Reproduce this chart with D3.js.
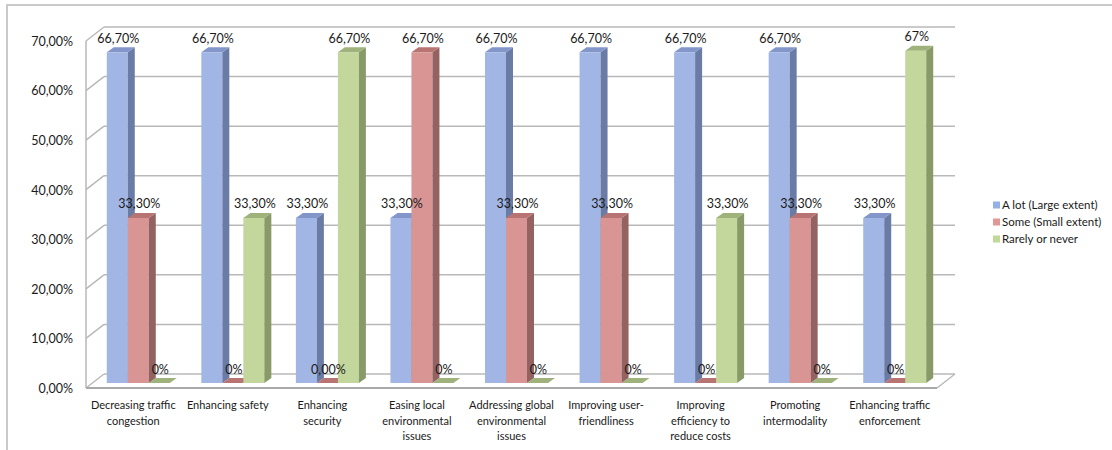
<!DOCTYPE html>
<html>
<head>
<meta charset="utf-8">
<script src="https://cdn.jsdelivr.net/npm/d3@7"></script>
<style>
  html, body { margin: 0; padding: 0; background: #ffffff; }
  svg { display: block; }
  text { font-family: Lato, "Open Sans", sans-serif; fill: #1a1a1a; }
</style>
</head>
<body>
<svg id="chart" width="1112" height="450"></svg>
<script>
// ---- data ----
const categories = [
  "Decreasing traffic congestion",
  "Enhancing safety",
  "Enhancing security",
  "Easing local environmental issues",
  "Addressing global environmental issues",
  "Improving user-friendliness",
  "Improving efficiency to reduce costs",
  "Promoting intermodality",
  "Enhancing traffic enforcement"
];
const categoryLines = [
  ["Decreasing traffic", "congestion"],
  ["Enhancing safety"],
  ["Enhancing", "security"],
  ["Easing local", "environmental", "issues"],
  ["Addressing global", "environmental", "issues"],
  ["Improving user-", "friendliness"],
  ["Improving", "efficiency to", "reduce costs"],
  ["Promoting", "intermodality"],
  ["Enhancing traffic", "enforcement"]
];
const seriesNames = ["A lot (Large extent)", "Some (Small extent)", "Rarely or never"];
const aLot     = [66.7, 66.7, 33.3, 33.3, 66.7, 66.7, 66.7, 66.7, 33.3];
const some     = [33.3, 0, 0, 66.7, 33.3, 33.3, 0, 33.3, 0];
const rarely   = [0, 33.3, 66.7, 0, 0, 0, 33.3, 0, 67];
const aLotLabels   = ["66,70%", "66,70%", "33,30%", "33,30%", "66,70%", "66,70%", "66,70%", "66,70%", "33,30%"];
const someLabels   = ["33,30%", "0%", "0,00%", "66,70%", "33,30%", "33,30%", "0%", "33,30%", "0%"];
const rarelyLabels = ["0%", "33,30%", "66,70%", "0%", "0%", "0%", "33,30%", "0%", "67%"];
const yTicks = [0, 10, 20, 30, 40, 50, 60, 70];

// ---- styling ----
const palette = [
  { front: "#a2b6e5", side: "#6a7ca6", top: "#8396c9", key: "#95b0e6" },
  { front: "#d99593", side: "#956262", top: "#b77472", key: "#e09896" },
  { front: "#c3d69b", side: "#899a69", top: "#9fb27b", key: "#c2d89a" }
];
const values = [aLot, some, rarely];
const labels = [aLotLabels, someLabels, rarelyLabels];

const svg = d3.select("#chart");

// outer frame
svg.append("rect")
  .attr("x", 7).attr("y", 5).attr("width", 1130).attr("height", 470)
  .attr("fill", "none").attr("stroke", "#c9c9c9").attr("stroke-width", 2);

// plot geometry (front plane of the floor)
const left = 86, right = 937, base = 388;
const wallDX = 18, wallDY = 14;   // back wall offset
const barDX = 5, barDY = 5;       // bar plane offset
const sideDX = 7, sideDY = 5;     // bar depth

const x0 = d3.scaleBand().domain(categories).range([left, right]).padding(0);
const x1 = d3.scaleBand().domain(seriesNames)
  .range([(x0.bandwidth() - 63) / 2, (x0.bandwidth() + 63) / 2]);
const y = d3.scaleLinear().domain([0, 70]).range([base, 41]);

const gridColor = "#b9b9b9";
const grid = svg.append("g").attr("stroke", gridColor).attr("stroke-width", 1.5).attr("fill", "none");

// back wall gridlines + left wall diagonals
yTicks.forEach(t => {
  grid.append("line")
    .attr("x1", left + wallDX).attr("x2", right + wallDX)
    .attr("y1", y(t) - wallDY).attr("y2", y(t) - wallDY);
  grid.append("line")
    .attr("x1", left).attr("y1", y(t))
    .attr("x2", left + wallDX).attr("y2", y(t) - wallDY);
});
// left wall front edge
grid.append("line").attr("x1", left).attr("x2", left).attr("y1", y(0)).attr("y2", y(70));
// floor front edge and right edge
grid.append("line").attr("x1", left).attr("x2", right).attr("y1", base).attr("y2", base)
  .attr("stroke", "#a9a9a9").attr("stroke-width", 2);
grid.append("line").attr("x1", right).attr("y1", base)
  .attr("x2", right + wallDX).attr("y2", base - wallDY);

// y axis labels
const yAxis = d3.axisLeft(y)
  .tickValues(yTicks)
  .tickSize(0)
  .tickPadding(0)
  .tickFormat(d => d3.format(".2f")(d).replace(".", ",") + "%");
const ya = svg.append("g").attr("transform", `translate(73,0)`).call(yAxis);
ya.select(".domain").remove();
ya.selectAll("text")
  .attr("font-family", "Lato, sans-serif").attr("font-size", 12.5).attr("fill", "#1a1a1a")
  .attr("dy", "0.35em");

// bars
const barsG = svg.append("g");
categories.forEach((cat, ci) => {
  seriesNames.forEach((s, si) => {
    const v = values[si][ci];
    const w = x1.bandwidth();
    const bx = x0(cat) + barDX + x1(s);
    const y0 = y(0) - barDY;
    const yt = y(v) - barDY;
    const c = palette[si];
    const g = barsG.append("g");
    if (yt < y0) {
      g.append("rect").attr("x", bx).attr("y", yt).attr("width", w).attr("height", y0 - yt)
        .attr("fill", c.front);
      g.append("polygon")
        .attr("points", [[bx + w, yt], [bx + w + sideDX, yt - sideDY], [bx + w + sideDX, y0 - sideDY], [bx + w, y0]].join(" "))
        .attr("fill", c.side);
    }
    g.append("polygon")
      .attr("points", [[bx, yt], [bx + sideDX, yt - sideDY], [bx + w + sideDX, yt - sideDY], [bx + w, yt]].join(" "))
      .attr("fill", c.top);
  });
});

// data labels
const lblG = svg.append("g").attr("font-size", 12.5).attr("text-anchor", "middle");
categories.forEach((cat, ci) => {
  seriesNames.forEach((s, si) => {
    const v = values[si][ci];
    const bx = x0(cat) + barDX + x1(s);
    lblG.append("text")
      .attr("x", bx + x1.bandwidth() / 2 + 1)
      .attr("y", y(v) - barDY - 9.5)
      .text(labels[si][ci]);
  });
});

// category labels
const catG = svg.append("g").attr("font-size", 11).attr("text-anchor", "middle");
categories.forEach((cat, ci) => {
  const t = catG.append("text")
    .attr("x", x0(cat) + x0.bandwidth() / 2)
    .attr("y", 409)
    .attr("fill", "#222");
  categoryLines[ci].forEach((ln, li) => {
    t.append("tspan").attr("x", x0(cat) + x0.bandwidth() / 2)
      .attr("dy", li === 0 ? 0 : 15.5).text(ln);
  });
});

// legend
const legend = svg.append("g").attr("transform", "translate(993,205)");
seriesNames.forEach((s, si) => {
  const row = legend.append("g").attr("transform", `translate(0,${si * 17})`);
  row.append("rect").attr("x", 0).attr("y", -3.5).attr("width", 7).attr("height", 7)
    .attr("fill", palette[si].key);
  row.append("text").attr("x", 9).attr("y", 0).attr("dy", "0.35em")
    .attr("font-size", 11.5).attr("fill", "#222").text(s);
});
</script>
</body>
</html>
